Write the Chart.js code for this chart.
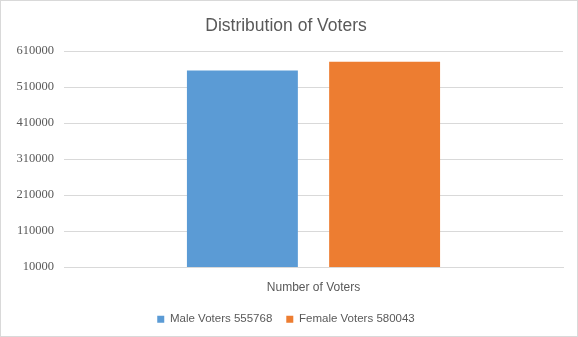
<!DOCTYPE html>
<html>
<head>
<meta charset="utf-8">
<script src="https://cdn.jsdelivr.net/npm/chart.js@4"></script>
<style>
  html, body { margin: 0; padding: 0; background: #fff; }
  #wrap { position: relative; width: 578px; height: 337px; box-sizing: border-box; border: 1px solid #d9d9d9; }
  canvas { display: block; }
</style>
</head>
<body>
<div id="wrap"><canvas id="chart"></canvas></div>
<script>
// voter counts
const categories = ["Number of Voters"];
const seriesNames = ["Male Voters", "Female Voters"];
const maleVoters = [555768];
const femaleVoters = [580043];
const yTicks = [10000, 110000, 210000, 310000, 410000, 510000, 610000];

const colors = ["#5b9bd5", "#ed7d31"];
const textColor = "#595959";

const ctx = document.getElementById("chart").getContext("2d");
new Chart(ctx, {
  type: "bar",
  data: {
    labels: categories,
    datasets: [
      { label: seriesNames[0] + " " + maleVoters[0], data: maleVoters, backgroundColor: colors[0] },
      { label: seriesNames[1] + " " + femaleVoters[0], data: femaleVoters, backgroundColor: colors[1] }
    ]
  },
  options: {
    responsive: true,
    maintainAspectRatio: false,
    animation: false,
    categoryPercentage: 0.57,
    barPercentage: 0.78,
    layout: { padding: { left: 8, right: 14, top: 11, bottom: 1 } },
    plugins: {
      title: {
        display: true,
        text: "Distribution of Voters",
        color: textColor,
        font: { family: "Liberation Sans", size: 17.5, weight: "normal" },
        padding: { top: 4, bottom: 14 }
      },
      legend: {
        position: "bottom",
        labels: {
          color: textColor,
          font: { family: "Liberation Sans", size: 11.5 },
          boxWidth: 7,
          boxHeight: 7,
          padding: 14
        }
      },
      tooltip: { enabled: false }
    },
    scales: {
      x: {
        grid: { display: false },
        border: { color: "#d9d9d9" },
        ticks: {
          color: textColor,
          font: { family: "Liberation Sans", size: 12 },
          padding: 5
        }
      },
      y: {
        min: yTicks[0],
        max: yTicks[yTicks.length - 1],
        afterBuildTicks: (scale) => { scale.ticks = yTicks.map(v => ({ value: v })); },
        grid: { color: "#d9d9d9", drawTicks: false },
        border: { display: false },
        ticks: {
          color: textColor,
          font: { family: "Liberation Serif", size: 12.5 },
          padding: 10,
          callback: (v) => String(v)
        },
        afterFit: (scale) => { scale.width = 55; }
      }
    }
  }
});
</script>
</body>
</html>
